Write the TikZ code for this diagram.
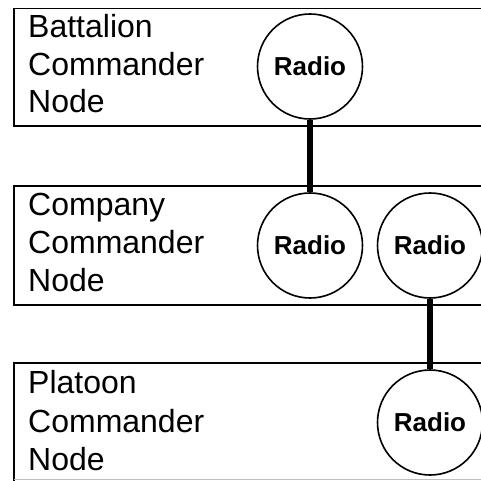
\documentclass[tikz,border=0pt]{standalone}
\usepackage{fontspec}
\setmainfont{Liberation Sans}
\begin{document}
\begin{tikzpicture}[x=1pt,y=-1pt,
  boxline/.style={draw=black,line width=1.8pt},
  label/.style={anchor=base west,inner sep=0pt,font=\fontsize{32}{38}\selectfont},
  radio/.style={draw=black,line width=1.6pt,circle,minimum size=105pt,inner sep=0pt,fill=white,font=\fontsize{26}{30}\selectfont\bfseries},
  link/.style={draw=black,line width=6pt}]
\useasboundingbox (0,0) rectangle (481,481);
\clip (0,0) rectangle (481,481);
\fill[white] (0,0) rectangle (481,481);
% boxes
\draw[boxline] (14,8.5) rectangle (500,126);
\draw[boxline] (14,186) rectangle (500,305);
\draw[boxline] (500,363) -- (14,363) -- (14,481);
\draw[draw=black!25,line width=1.2pt] (14,479.5) -- (500,479.5);
% labels
\node[label] (b1) at (28,37.5) {Battalion};
\node[label] (b2) at (28,75.5) {Commander};
\node[label] (b3) at (28,113) {Node};
\node[label] (c1) at (28,215) {Company};
\node[label] (c2) at (28,253.5) {Commander};
\node[label] (c3) at (28,291.5) {Node};
\node[label] (p1) at (28,393) {Platoon};
\node[label] (p2) at (28,432.5) {Commander};
\node[label] (p3) at (28,470.5) {Node};
% radios
\node[radio] (rb) at (310,66.5) {Radio};
\node[radio] (rc1) at (310,245.5) {Radio};
\node[radio] (rc2) at (430,245.5) {Radio};
\node[radio] (rp) at (430,422.5) {Radio};
% links
\draw[link] (rb.south) -- (rc1.north);
\draw[link] (rc2.south) -- (rp.north);
\end{tikzpicture}
\end{document}
